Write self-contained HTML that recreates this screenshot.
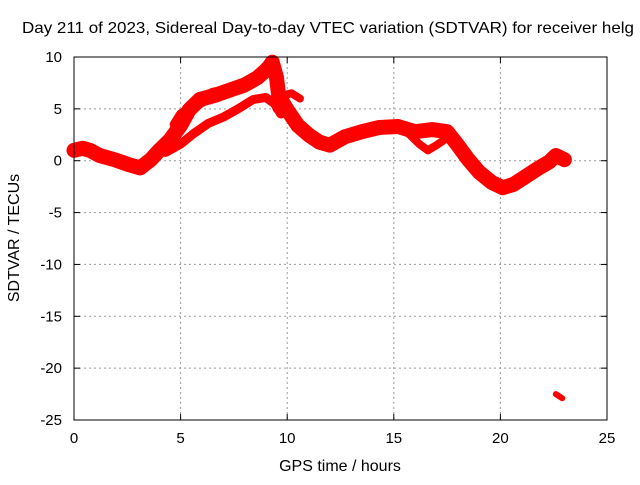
<!DOCTYPE html>
<html><head><meta charset="utf-8"><style>
body{margin:0;background:#fff;}
svg{font-family:"Liberation Sans",sans-serif;}
</style></head><body>
<svg id="c" width="640" height="480">
<text x="22" y="33" font-size="16" textLength="612" lengthAdjust="spacingAndGlyphs">Day 211 of 2023, Sidereal Day-to-day VTEC variation (SDTVAR) for receiver helg</text>
<text x="340" y="471" text-anchor="middle" font-size="16">GPS time / hours</text>
<text transform="translate(19,238) rotate(-90)" text-anchor="middle" font-size="16">SDTVAR / TECUs</text>
<g id="grid"></g><g id="ticks"></g><g id="marks"></g>
<rect x="74" y="57" width="533" height="363" fill="none" stroke="#000" stroke-width="1"/>
</svg>
<script>
const xTicks=[0,5,10,15,20,25];
const yTicks=[10,5,0,-5,-10,-15,-20,-25];
const mainH=[0,0.4,0.75,1.2,1.9,2.6,3.1,3.6,4.0,4.5,5.0,5.4,5.9,6.6,7.3,8.0,8.6,9.1,9.3,9.5,9.6,10,10.5,11,11.5,12,12.7,13.5,14.3,15.2,16,16.8,17.5,18,18.5,19,19.6,20.1,20.6,21.2,21.8,22.3,22.6,23];
const mainV=[1.0,1.2,1.0,0.5,0.1,-0.4,-0.7,0.1,1.0,2.0,3.4,4.9,5.9,6.3,6.8,7.3,8.0,8.9,9.5,8.0,6.3,4.9,3.4,2.5,1.8,1.5,2.3,2.8,3.2,3.3,2.8,3.0,2.8,1.5,0.1,-1.1,-2.1,-2.6,-2.3,-1.5,-0.7,-0.1,0.5,0.1];
const upH=[4.7,5.0,5.5,6.0,6.5,7.5,8.2,8.8,9.2,9.5];
const upV=[3.5,4.5,5.2,5.6,6.6,7.0,7.6,8.7,9.6,8.0];
const lowH=[4.3,5.0,5.6,6.3,7.0,7.7,8.4,9.0,9.4,9.7];
const lowV=[0.8,1.6,2.6,3.6,4.2,5.0,5.9,6.1,5.5,4.5];
const bumpH=[9.5,9.8,10.2,10.6];
const bumpV=[5.0,6.3,6.5,6.0];
const dipH=[15.6,16.2,16.6,17.0,17.5];
const dipV=[2.8,1.6,1.0,1.5,2.2];
const outH=[22.6,22.9];
const outV=[-22.5,-22.9];
const X=h=>74+h*533/25;
const Y=v=>57+(10-v)*363/35;
const NS="http://www.w3.org/2000/svg";
const grid=document.getElementById('grid'),ticks=document.getElementById('ticks'),marks=document.getElementById('marks');
function mk(tag,attrs,parent){const e=document.createElementNS(NS,tag);for(const k in attrs)e.setAttribute(k,attrs[k]);parent.appendChild(e);return e;}
xTicks.forEach(t=>{
 if(t>0&&t<25){const g=mk('line',{x1:X(t),x2:X(t),y1:57,y2:420,stroke:'#999','stroke-dasharray':'2,3'},grid);
 
 }
 const l=mk('text',{x:X(t),y:443,'text-anchor':'middle','font-size':15},ticks);l.textContent=t;
 
 
 mk('line',{x1:X(t),x2:X(t),y1:420,y2:414,stroke:'#000'},ticks);mk('line',{x1:X(t),x2:X(t),y1:57,y2:63,stroke:'#000'},ticks);
});
yTicks.forEach(t=>{
 if(t<10&&t>-25){const g=mk('line',{x1:74,x2:607,y1:Y(t),y2:Y(t),stroke:'#999','stroke-dasharray':'2,3'},grid);
 
 }
 const l=mk('text',{x:62,y:Y(t)+5,'text-anchor':'end','font-size':15},ticks);l.textContent=t;
 
 
 mk('line',{x1:74,x2:80,y1:Y(t),y2:Y(t),stroke:'#000'},ticks);mk('line',{x1:607,x2:601,y1:Y(t),y2:Y(t),stroke:'#000'},ticks);
});
function series(H,V,w,name){
 const p=mk('polyline',{points:H.map((h,i)=>X(h)+','+Y(V[i])).join(' '),fill:'none',stroke:'#f00','stroke-width':w,'stroke-linejoin':'round','stroke-linecap':'round'},marks);
 
 
}
series(mainH,mainV,15,'sdtvar-main-band');
series(upH,upV,9,'sdtvar-upper-branch');
series(lowH,lowV,9,'sdtvar-lower-branch');
series(bumpH,bumpV,8,'sdtvar-bump');
series(dipH,dipV,8,'sdtvar-dip');
series(outH,outV,6,'sdtvar-outlier');
</script>
</body></html>
